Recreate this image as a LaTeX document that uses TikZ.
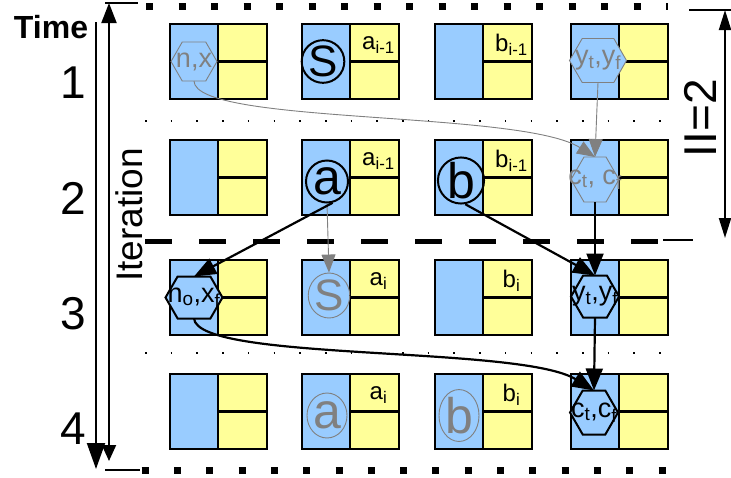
\documentclass[tikz,border=0pt]{standalone}
\usepackage{fontspec}
\setmainfont{Liberation Sans}
\usetikzlibrary{arrows.meta, shapes.geometric, shapes.symbols, positioning}

\definecolor{cellblue}{RGB}{153,204,255}
\definecolor{cellyellow}{RGB}{255,255,153}
\definecolor{fadegray}{RGB}{128,128,128}

\newcommand{\fsz}[1]{\fontsize{#1pt}{#1pt}\selectfont}

\tikzset{
	bluecell/.style={draw, line width=2.6pt, fill=cellblue, minimum width=48pt,
		minimum height=75pt, inner sep=0pt, outer sep=0pt},
	yelcell/.style={draw, line width=2.6pt, fill=cellyellow, minimum width=49pt,
		minimum height=37.5pt, inner sep=0pt, outer sep=0pt},
	hexnode/.style={signal, signal to=east and west, signal pointer angle=120,
		draw, line width=2pt, fill=cellblue, minimum width=48pt, minimum height=42pt,
		inner sep=0pt, outer sep=0pt},
	ghost/.style={draw=fadegray, line width=0.9pt},
	htext/.style={font=\fsz{27}, inner sep=0pt},
	op/.style={circle, draw, line width=2pt, minimum size=42pt, inner sep=0pt},
	gop/.style={ellipse, ghost, text=fadegray, minimum width=40pt,
		minimum height=45pt, inner sep=0pt},
	var/.style={font=\fsz{24}, inner sep=0pt},
	flow/.style={line width=2.2pt, -{Triangle[length=22pt, width=17pt]}},
	gflow/.style={fadegray, line width=0.9pt, -{Triangle[length=18pt, width=14pt]}},
	axis/.style={line width=2pt},
}

\begin{document}
\begin{tikzpicture}[x=1pt, y=-1pt]
	\useasboundingbox (0,0) rectangle (731,477);

	% stages
	\draw[line width=7pt, dash pattern=on 7pt off 25.5pt] (146,6.5) -- (667.5,6.5);
	\draw[line width=7pt, dash pattern=on 7pt off 25.3pt] (141.7,470) -- (666,470);
	\draw[line width=1.6pt, dash pattern=on 1.6pt off 24.1pt] (145,121) -- (665,121);
	\draw[line width=1.6pt, dash pattern=on 1.6pt off 24.1pt] (145,353) -- (665,353);
	\draw[line width=5pt, dash pattern=on 27pt off 27pt] (145,241) -- (659,241);

	\foreach \r/\y in {1/24,2/140,3/260,4/374}
		\foreach \c/\x in {1/170,2/302,3/435,4/571} {
			\node[bluecell, anchor=north west] (bl\r\c) at (\x,\y) {};
			\node[yelcell, anchor=north west] (yt\r\c) at (bl\r\c.north east) {};
			\node[yelcell, anchor=north west] (yb\r\c) at (yt\r\c.south west) {};
		}

	% iteration i-1
	\node[hexnode, ghost, minimum width=46pt, minimum height=39pt] (nx1) at (bl11) {};
	\node[htext, text=fadegray] (nx1t) at (nx1) {n,x};
	\node[op, font=\fsz{44}] (s1) at ([xshift=-3pt]bl12.center) {S};
	\node[var] (a1) at ([xshift=4pt, yshift=-2pt]yt12.center) {a\textsubscript{i-1}};
	\node[var] (b1) at ([xshift=4pt, yshift=-2pt]yt13.center) {b\textsubscript{i-1}};
	\node[hexnode, ghost, minimum width=57pt, minimum height=44pt] (y1) at ([xshift=3pt, yshift=1pt]bl14.center) {};
	\node[htext, text=fadegray] (y1t) at (y1) {y\textsubscript{t},y\textsubscript{f}};

	\node[op, font=\fsz{50}] (a2) at ([xshift=1pt, yshift=-4pt]bl22.center) {a};
	\node[var] (a2l) at ([xshift=4pt, yshift=-2pt]yt22.center) {a\textsubscript{i-1}};
	\node[op, font=\fsz{50}] (b2) at ([xshift=2pt, yshift=-3pt]bl23.center) {b};
	\node[var] (b2l) at ([xshift=4pt, yshift=-2pt]yt23.center) {b\textsubscript{i-1}};
	\node[hexnode, ghost, minimum height=45pt] (c2) at ([yshift=-2pt]bl24.center) {};
	\node[htext, text=fadegray] (c2t) at (c2) {c\textsubscript{t}, c\textsubscript{f}};

	% iteration i
	\node[hexnode, minimum width=57pt] (nx3) at (bl31) {};
	\node[htext] (nx3t) at (nx3) {n\textsubscript{o},x\textsubscript{f}};
	\node[gop, font=\fsz{44}] (s3) at ([xshift=3pt, yshift=2pt]bl32.center) {S};
	\node[var] (a3) at ([xshift=4pt, yshift=-2pt]yt32.center) {a\textsubscript{i}};
	\node[var] (b3) at ([xshift=4pt, yshift=-2pt]yt33.center) {b\textsubscript{i}};
	\node[hexnode] (y3) at ([yshift=1pt]bl34.center) {};
	\node[htext] (y3t) at (y3) {y\textsubscript{t},y\textsubscript{f}};

	\node[gop, font=\fsz{50}] (a4) at ([xshift=1pt, yshift=-4pt]bl42.center) {a};
	\node[var] (a4l) at ([xshift=4pt, yshift=-2pt]yt42.center) {a\textsubscript{i}};
	\node[gop, font=\fsz{50}] (b4) at ([yshift=-4pt]bl43.center) {b};
	\node[var] (b4l) at ([xshift=4pt, yshift=-2pt]yt43.center) {b\textsubscript{i}};
	\node[hexnode, minimum height=44pt] (c4) at ([xshift=-1pt, yshift=-1pt]bl44.center) {};
	\node[htext] (c4t) at (c4) {c\textsubscript{t},c\textsubscript{f}};

	\draw[gflow] (nx1.south) .. controls (195,125) and (520,110) .. (c2.north);
	\draw[gflow] (y1.south) -- (c2.north);
	\draw[gflow] (a2.south) -- (s3.north);
	\draw[flow] (a2.-75) -- (nx3.north);
	\draw[flow] (b2.-80) -- (y3.north);
	\draw[flow] (c2.south) -- (y3.north);
	\draw[flow] (y3.south) -- (c4.north);
	\draw[flow] (nx3.south) .. controls (198,362) and (520,345) .. (c4.north);

	% axes
	\node[font=\bfseries\fsz{32}] (time) at (51,27) {Time};
	\foreach \n/\y in {1/83,2/198,3/314,4/429}
		\node[font=\fsz{46}] (t\n) at (73,\y) {\n};
	\coordinate (timeTop) at (96,22);
	\coordinate (timeEnd) at (96,469);
	\draw[axis, -{Triangle[length=26pt, width=18pt]}] (timeTop) -- (timeEnd);

	\coordinate (iterTop) at (109,3);
	\coordinate (iterEnd) at (109,461);
	\draw[axis, {Triangle[length=20pt, width=15pt]}-{Triangle[length=16pt, width=14pt]}] (iterTop) -- (iterEnd);
	\draw[axis] (105,3) -- (138,3);
	\draw[axis] (105,470) -- (140,470);
	\node[font=\fsz{37}, rotate=90] (iter) at (129,215) {Iteration};

	\coordinate (iiTop) at (725,10);
	\coordinate (iiEnd) at (725,238);
	\draw[axis, {Triangle[length=20pt, width=12pt]}-{Triangle[length=20pt, width=12pt]}] (iiTop) -- (iiEnd);
	\draw[axis] (689,10) -- (731,10);
	\draw[axis] (663,240) -- (693,240);
	\node[font=\fsz{46}, rotate=90] (ii) at (700,118) {II=2};
\end{tikzpicture}
\end{document}
